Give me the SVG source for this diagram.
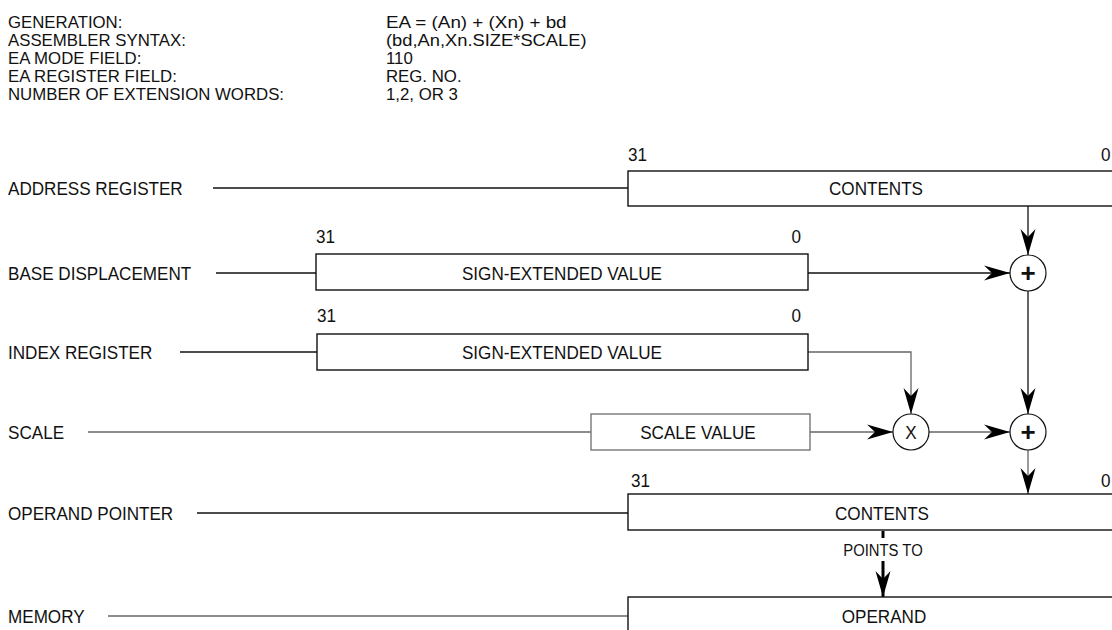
<svg xmlns="http://www.w3.org/2000/svg" width="1112" height="630" viewBox="0 0 1112 630">
<style>
text{font-family:"Liberation Sans",Arial,sans-serif;font-size:19px;fill:#111;transform-box:fill-box;transform-origin:0 50%;transform:scaleX(0.9)}
.c{text-anchor:middle;transform-origin:50% 50%}
.e{text-anchor:end;transform-origin:100% 50%}
.h{font-size:16px;transform:scaleX(1.05)}
.box{fill:#fff;stroke:#111;stroke-width:1.4}
.gbox{fill:#fff;stroke:#777;stroke-width:1.4}
.ln{fill:none;stroke:#111;stroke-width:1.3}
.gl{fill:none;stroke:#666;stroke-width:1.3}
.circ{fill:#fff;stroke:#111;stroke-width:1.2}
.sm{font-size:16.5px}
.plus{font-size:26px;font-weight:bold;transform:none}
</style>
<defs>
<marker id="ah" viewBox="0 0 26 16" markerWidth="26" markerHeight="16" refX="26" refY="8" orient="auto" markerUnits="userSpaceOnUse">
<path d="M0,0.5 L26,8 L0,15.5 L8,8 Z" fill="#000"/>
</marker>
</defs>
<g id="header">
<text class="h" x="8" y="28">GENERATION:</text>
<text class="h" x="8" y="46">ASSEMBLER SYNTAX:</text>
<text class="h" x="8" y="64">EA MODE FIELD:</text>
<text class="h" x="8" y="82">EA REGISTER FIELD:</text>
<text class="h" x="8" y="100">NUMBER OF EXTENSION WORDS:</text>
<text class="h" x="386" y="28" textLength="172" lengthAdjust="spacingAndGlyphs">EA = (An) + (Xn) + bd</text>
<text class="h" x="386" y="46" textLength="191" lengthAdjust="spacingAndGlyphs">(bd,An,Xn.SIZE*SCALE)</text>
<text class="h" x="386" y="64">110</text>
<text class="h" x="386" y="82">REG. NO.</text>
<text class="h" x="386" y="100">1,2, OR 3</text>
</g>
<g id="labels">
<text x="8" y="195">ADDRESS REGISTER</text>
<text x="8" y="280">BASE DISPLACEMENT</text>
<text x="8" y="359">INDEX REGISTER</text>
<text x="8" y="439">SCALE</text>
<text x="8" y="520">OPERAND POINTER</text>
<text x="8" y="623">MEMORY</text>
</g>
<g id="connectors">
<line class="ln" x1="213" y1="188" x2="628" y2="188"/>
<line class="ln" x1="216" y1="273" x2="316" y2="273"/>
<line class="ln" x1="180" y1="352" x2="317" y2="352"/>
<line class="gl" x1="88" y1="432" x2="591" y2="432"/>
<line class="ln" x1="197" y1="513" x2="628" y2="513"/>
<line class="gl" x1="108" y1="616" x2="628" y2="616"/>
<line class="ln" x1="1028" y1="206" x2="1028" y2="255" marker-end="url(#ah)"/>
<line class="ln" x1="808" y1="273" x2="1010" y2="273" marker-end="url(#ah)"/>
<line class="ln" x1="1028" y1="291" x2="1028" y2="414" marker-end="url(#ah)"/>
<path class="gl" d="M808,352 H911 V414" marker-end="url(#ah)"/>
<line class="gl" x1="810" y1="432" x2="893" y2="432" marker-end="url(#ah)"/>
<line class="gl" x1="929" y1="432" x2="1010" y2="432" marker-end="url(#ah)"/>
<line class="gl" x1="1028" y1="450" x2="1028" y2="494" marker-end="url(#ah)"/>
<line x1="883" y1="531" x2="883" y2="538" stroke="#000" stroke-width="3"/>
<line x1="883" y1="561" x2="883" y2="597" stroke="#000" stroke-width="3" marker-end="url(#ah)"/>
<text class="sm c" x="883" y="556">POINTS TO</text>
</g>
<g id="address-register">
<rect class="box" x="628" y="171" width="492" height="35"/>
<text class="c" x="876" y="195">CONTENTS</text>
<text x="628" y="161">31</text>
<text x="1101" y="161">0</text>
</g>
<g id="base-displacement">
<rect class="box" x="316" y="254" width="492" height="36"/>
<text class="c" x="562" y="280">SIGN-EXTENDED VALUE</text>
<text x="316" y="243">31</text>
<text class="e" x="801" y="243">0</text>
</g>
<g id="index-register">
<rect class="box" x="317" y="334" width="491" height="36"/>
<text class="c" x="562" y="359">SIGN-EXTENDED VALUE</text>
<text x="317" y="322">31</text>
<text class="e" x="801" y="322">0</text>
</g>
<g id="scale-value">
<rect class="gbox" x="591" y="414" width="219" height="36"/>
<text class="c" x="698" y="439">SCALE VALUE</text>
</g>
<g id="add1">
<circle class="circ" cx="1028" cy="273" r="18"/>
<text class="plus c" x="1028" y="282">+</text>
</g>
<g id="multiply">
<circle class="circ" cx="911" cy="432" r="18"/>
<text class="c" x="911" y="439">X</text>
</g>
<g id="add2">
<circle class="circ" cx="1028" cy="432" r="18"/>
<text class="plus c" x="1028" y="441">+</text>
</g>
<g id="operand-pointer">
<rect class="box" x="628" y="494" width="492" height="36"/>
<text class="c" x="882" y="520">CONTENTS</text>
<text x="631" y="487">31</text>
<text x="1101" y="487">0</text>
</g>
<g id="memory">
<rect class="box" x="628" y="597" width="492" height="50"/>
<text class="c" x="884" y="623">OPERAND</text>
</g>
</svg>
